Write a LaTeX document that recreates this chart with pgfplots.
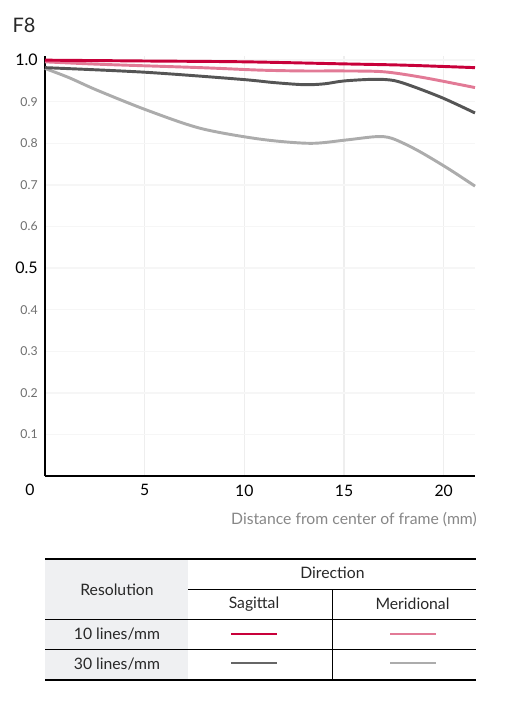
\documentclass[border=0pt]{standalone}
\usepackage{pgfplots}
\pgfplotsset{compat=1.18}
\usepackage{fontspec}
\setmainfont{Lato}

\definecolor{sag10}{RGB}{200,0,58}
\definecolor{mer10}{RGB}{226,122,150}
\definecolor{sag30}{RGB}{85,85,85}
\definecolor{mer30}{RGB}{172,172,172}
\definecolor{legsag30}{RGB}{102,102,102}
\definecolor{gridv}{RGB}{238,238,238}
\definecolor{gridh}{RGB}{246,246,246}
\definecolor{ticksmall}{RGB}{110,110,110}
\definecolor{labgray}{RGB}{135,135,135}
\definecolor{cellbg}{RGB}{239,240,242}
\definecolor{txt}{RGB}{40,40,40}

\newcommand{\st}[1]{{\fontsize{9.2}{10}\selectfont\color{ticksmall}#1}}
\newcommand{\bt}[1]{{\fontsize{12}{13}\selectfont\color{black}#1}}

\begin{document}
\begin{tikzpicture}
\useasboundingbox (0pt,0pt) rectangle (395.25pt,-528.75pt);
\begin{axis}[
  at={(33.75pt,-357pt)}, anchor=south west,
  scale only axis, width=322.5pt, height=315pt,
  xmin=0, xmax=21.57, ymin=0, ymax=1.01,
  axis x line=bottom, axis y line=left,
  axis line style={-, line width=1.6pt, black},
  major tick length=0pt,
  xtick={5,10,15,20},
  ytick={0.1,0.2,0.3,0.4,0.5,0.6,0.7,0.8,0.9,1.0},
  yticklabels={\st{0.1},\st{0.2},\st{0.3},\st{0.4},\bt{0.5},\st{0.6},\st{0.7},\st{0.8},\st{0.9},\bt{1.0}},
  /pgf/number format/assume math mode=true,
  x tick label style={font=\fontsize{11.8}{13}\selectfont, yshift=-3pt},
  y tick label style={xshift=-2pt},
  xmajorgrids, ymajorgrids,
  x grid style={gridv, line width=1.1pt},
  y grid style={gridh, line width=1pt},
  clip=false,
]
\addplot[mer30, line width=2.2pt, smooth] coordinates {
 (0,0.980) (1.2,0.958) (2.6,0.928) (5.1,0.880) (7.8,0.836) (10.8,0.810)
 (13.3,0.800) (15.1,0.808) (16.6,0.816) (17.4,0.812) (18.65,0.784)
 (20.2,0.740) (21.57,0.697)};
\addplot[sag30, line width=2.2pt, smooth] coordinates {
 (0,0.982) (5,0.971) (9.8,0.954) (11.5,0.946) (13,0.941) (14,0.943)
 (15,0.950) (16.5,0.954) (17.5,0.951) (18.5,0.936) (20,0.908) (21.57,0.873)};
\addplot[mer10, line width=2.2pt, smooth] coordinates {
 (0,0.996) (2.8,0.990) (7.8,0.982) (10.8,0.976) (13,0.974) (15,0.974)
 (17,0.972) (19,0.958) (21.57,0.934)};
\addplot[sag10, line width=2.2pt, smooth] coordinates {
 (0,1.000) (5,0.998) (10,0.996) (15,0.991) (18,0.988) (21.57,0.982)};
\end{axis}

\begin{scope}[x=0.75pt, y=-0.75pt]
  % headline and axis labels
  \node[font=\fontsize{15}{17}\selectfont, text=txt] at (24,25) {F8};
  \node[font=\fontsize{11.8}{13}\selectfont] at (30,490) {0};
  \node[font=\fontsize{11.8}{13}\selectfont, text=labgray, anchor=east, inner sep=0pt] at (477,520) {Distance from center of frame (mm)};

  % legend table
  \fill[cellbg] (45,559) rectangle (188,680);
  \draw[black, line width=1.1pt] (45,559) -- (476,559);
  \draw[black, line width=0.6pt] (188,589) -- (476,589);
  \draw[black, line width=0.6pt] (45,619) -- (476,619);
  \draw[black, line width=0.6pt] (45,649) -- (476,649);
  \draw[black, line width=1.1pt] (45,680) -- (476,680);
  \draw[black, line width=0.6pt] (332.5,589) -- (332.5,680);

  \begin{scope}[every node/.style={font=\fontsize{11.8}{13}\selectfont, text=txt}]
    \node at (117,590) {Resolution};
    \node at (332.5,573) {Direction};
    \node at (254,604) {Sagittal};
    \node at (412.5,604) {Meridional};
    \node at (117,634) {10 lines/mm};
    \node at (117,664) {30 lines/mm};
  \end{scope}

  \draw[sag10, line width=2.2pt] (231,634) -- (277,634);
  \draw[mer10, line width=2.2pt] (390,634) -- (436,634);
  \draw[legsag30, line width=2.2pt] (231,663) -- (277,663);
  \draw[mer30, line width=2.2pt] (390,663) -- (436,663);
\end{scope}
\end{tikzpicture}
\end{document}
